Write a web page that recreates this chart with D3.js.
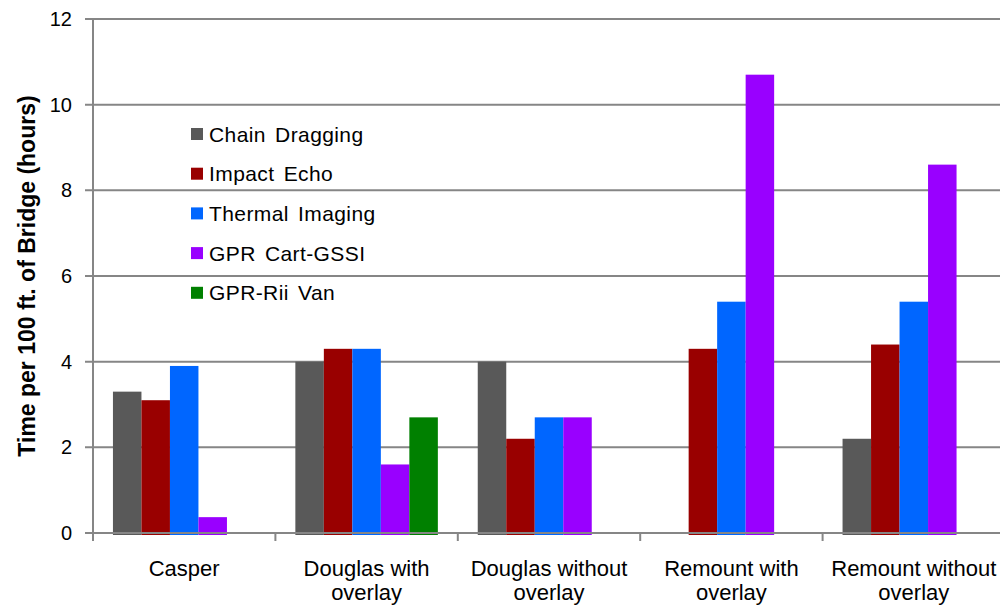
<!DOCTYPE html>
<html>
<head>
<meta charset="utf-8">
<script src="https://cdn.jsdelivr.net/npm/d3@7"></script>
<style>
  html, body { margin: 0; padding: 0; background: #fff; }
  svg { display: block; font-family: "Liberation Sans", Arial, sans-serif; }
</style>
</head>
<body>
<svg id="chart" width="1000" height="606"></svg>
<script>
// ---- data ----
const categories = [
  ["Casper"],
  ["Douglas with", "overlay"],
  ["Douglas without", "overlay"],
  ["Remount with", "overlay"],
  ["Remount without", "overlay"]
];
const seriesNames = ["Chain Dragging", "Impact Echo", "Thermal Imaging", "GPR Cart-GSSI", "GPR-Rii Van"];
const chainDragging  = [3.3, 4.0, 4.0, null, 2.2];
const impactEcho     = [3.1, 4.3, 2.2, 4.3, 4.4];
const thermalImaging = [3.9, 4.3, 2.7, 5.4, 5.4];
const gprCartGSSI    = [0.37, 1.6, 2.7, 10.7, 8.6];
const gprRiiVan      = [null, 2.7, null, null, null];
const seriesValues = [chainDragging, impactEcho, thermalImaging, gprCartGSSI, gprRiiVan];
const yTicks = [0, 2, 4, 6, 8, 10, 12];
const colors = ["#595959", "#990000", "#0066FF", "#9900FF", "#008000"];

// ---- layout ----
const svg = d3.select("#chart");
const plotLeft = 93, plotRight = 1005, plotTop = 19, plotBottom = 533;
const catIdx = categories.map((c, i) => i);

const x0 = d3.scaleBand().domain(catIdx).range([plotLeft, plotRight]).paddingInner(0).paddingOuter(0);
const x1 = d3.scaleBand().domain(d3.range(seriesNames.length))
  .range([0, x0.bandwidth()]).paddingInner(0).paddingOuter(0.7);
const y = d3.scaleLinear().domain([0, 12]).range([plotBottom, plotTop]);

const gridColor = "#868686";

// gridlines (behind bars)
svg.append("g").selectAll("line").data(yTicks.filter(t => t !== 0)).join("line")
  .attr("x1", plotLeft - 8).attr("x2", 1000)
  .attr("y1", d => y(d)).attr("y2", d => y(d))
  .attr("stroke", gridColor).attr("stroke-width", 2);

// bars
const data = [];
seriesValues.forEach((vals, s) => vals.forEach((v, c) => {
  if (v != null) data.push({ s, c, v });
}));
svg.append("g").selectAll("rect").data(data).join("rect")
  .attr("x", d => x0(d.c) + x1(d.s))
  .attr("width", x1.bandwidth())
  .attr("y", d => y(d.v))
  .attr("height", d => y(0) - y(d.v) + 2)
  .attr("fill", d => colors[d.s]);

// zero axis line + y axis line
svg.append("line").attr("x1", plotLeft - 8).attr("x2", 1000)
  .attr("y1", y(0)).attr("y2", y(0))
  .attr("stroke", gridColor).attr("stroke-width", 2);
svg.append("line").attr("x1", plotLeft).attr("x2", plotLeft)
  .attr("y1", y(12)).attr("y2", y(0) + 8)
  .attr("stroke", gridColor).attr("stroke-width", 2);

// category tick marks
svg.append("g").selectAll("line").data(catIdx.slice(1)).join("line")
  .attr("x1", d => x0(d)).attr("x2", d => x0(d))
  .attr("y1", y(0)).attr("y2", y(0) + 8)
  .attr("stroke", gridColor).attr("stroke-width", 2);

// y tick labels
svg.append("g").selectAll("text").data(yTicks).join("text")
  .attr("x", 72).attr("y", d => y(d))
  .attr("text-anchor", "end").attr("dominant-baseline", "central")
  .attr("font-size", 20).attr("fill", "#000")
  .text(d => d);

// x category labels
const xl = svg.append("g").selectAll("text").data(categories).join("text")
  .attr("text-anchor", "middle").attr("font-size", 22).attr("fill", "#000")
  .attr("x", (d, i) => x0(i) + x0.bandwidth() / 2);
xl.selectAll("tspan").data(d => d).join("tspan")
  .attr("x", function () { return d3.select(this.parentNode).attr("x"); })
  .attr("y", (d, i) => 576 + i * 24)
  .text(d => d);

// y axis title
svg.append("text")
  .attr("transform", `translate(27, ${(plotTop + plotBottom) / 2}) rotate(-90)`)
  .attr("text-anchor", "middle").attr("dominant-baseline", "central")
  .attr("font-size", 23).attr("font-weight", "bold").attr("fill", "#000")
  .text("Time per 100 ft. of Bridge (hours)");

// legend
const lg = svg.append("g").selectAll("g").data(seriesNames).join("g")
  .attr("transform", (d, i) => `translate(191, ${134 + i * 39.7})`);
lg.append("rect").attr("x", 0).attr("y", -6).attr("width", 12).attr("height", 12)
  .attr("fill", (d, i) => colors[i]);
lg.append("text").attr("x", 18).attr("y", 0)
  .attr("dominant-baseline", "central").attr("font-size", 21)
  .attr("word-spacing", 3).attr("letter-spacing", 0.4)
  .attr("fill", "#000").text(d => d);
</script>
</body>
</html>
